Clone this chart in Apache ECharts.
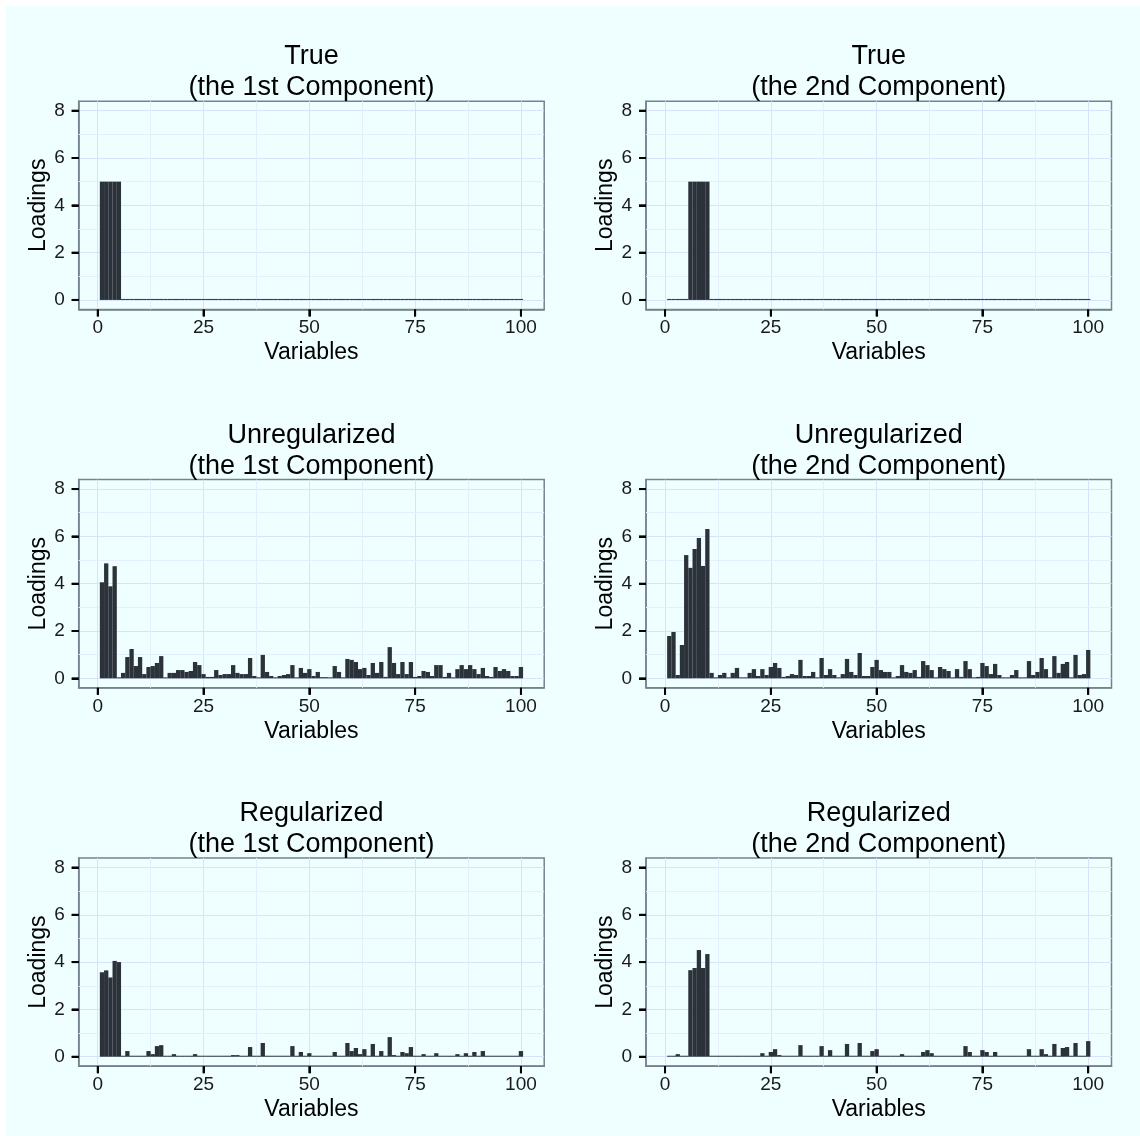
<!DOCTYPE html>
<html>
<head>
<meta charset="utf-8">
<script src="https://cdn.jsdelivr.net/npm/echarts@6/dist/echarts.min.js"></script>
<style>
  body { margin: 0; background: #ffffff; }
  #bg { position: absolute; left: 6px; top: 6px; width: 1134px; height: 1130px; background: #efffff; }
  #chart { position: absolute; left: 0; top: 0; width: 1140px; height: 1136px; }
</style>
</head>
<body>
<div id="bg"></div>
<div id="chart"></div>
<script>
// variable index 1..100
const variables = [
  1, 2, 3, 4, 5, 6, 7, 8, 9, 10, 11, 12, 13, 14, 15, 16, 17, 18, 19, 20,
  21, 22, 23, 24, 25, 26, 27, 28, 29, 30, 31, 32, 33, 34, 35, 36, 37, 38, 39, 40,
  41, 42, 43, 44, 45, 46, 47, 48, 49, 50, 51, 52, 53, 54, 55, 56, 57, 58, 59, 60,
  61, 62, 63, 64, 65, 66, 67, 68, 69, 70, 71, 72, 73, 74, 75, 76, 77, 78, 79, 80,
  81, 82, 83, 84, 85, 86, 87, 88, 89, 90, 91, 92, 93, 94, 95, 96, 97, 98, 99, 100
];

const xTicks = [0, 25, 50, 75, 100];
const xMinorTicks = [12.5, 37.5, 62.5, 87.5];
const yTicks = [0, 2, 4, 6, 8];
const yMinorTicks = [1, 3, 5, 7];

const trueFirst = [
  5, 5, 5, 5, 5, 0, 0, 0, 0, 0, 0, 0, 0, 0, 0, 0, 0, 0, 0, 0,
  0, 0, 0, 0, 0, 0, 0, 0, 0, 0, 0, 0, 0, 0, 0, 0, 0, 0, 0, 0,
  0, 0, 0, 0, 0, 0, 0, 0, 0, 0, 0, 0, 0, 0, 0, 0, 0, 0, 0, 0,
  0, 0, 0, 0, 0, 0, 0, 0, 0, 0, 0, 0, 0, 0, 0, 0, 0, 0, 0, 0,
  0, 0, 0, 0, 0, 0, 0, 0, 0, 0, 0, 0, 0, 0, 0, 0, 0, 0, 0, 0
];
const trueSecond = [
  0, 0, 0, 0, 0, 5, 5, 5, 5, 5, 0, 0, 0, 0, 0, 0, 0, 0, 0, 0,
  0, 0, 0, 0, 0, 0, 0, 0, 0, 0, 0, 0, 0, 0, 0, 0, 0, 0, 0, 0,
  0, 0, 0, 0, 0, 0, 0, 0, 0, 0, 0, 0, 0, 0, 0, 0, 0, 0, 0, 0,
  0, 0, 0, 0, 0, 0, 0, 0, 0, 0, 0, 0, 0, 0, 0, 0, 0, 0, 0, 0,
  0, 0, 0, 0, 0, 0, 0, 0, 0, 0, 0, 0, 0, 0, 0, 0, 0, 0, 0, 0
];
const unregFirst = [
  4.06, 4.86, 3.89, 4.74, 0.02, 0.23, 0.90, 1.24, 0.52, 0.90,
  0.18, 0.48, 0.52, 0.65, 0.94, 0.03, 0.23, 0.23, 0.35, 0.35,
  0.27, 0.31, 0.69, 0.56, 0.18, 0.06, 0.06, 0.35, 0.14, 0.18,
  0.18, 0.56, 0.23, 0.18, 0.18, 0.86, 0.10, 0.03, 0.99, 0.27,
  0.10, 0.03, 0.10, 0.14, 0.18, 0.56, 0.03, 0.44, 0.23, 0.39,
  0.10, 0.27, 0.05, 0.05, 0.02, 0.52, 0.27, 0.02, 0.82, 0.78,
  0.69, 0.39, 0.44, 0.14, 0.65, 0.23, 0.69, 0.06, 1.32, 0.65,
  0.18, 0.69, 0.18, 0.69, 0.06, 0.10, 0.31, 0.27, 0.10, 0.56,
  0.56, 0.06, 0.23, 0.02, 0.39, 0.56, 0.39, 0.56, 0.39, 0.18,
  0.44, 0.10, 0.06, 0.48, 0.31, 0.39, 0.31, 0.10, 0.10, 0.48
];
const unregSecond = [
  1.79, 1.96, 0.14, 1.41, 5.21, 4.67, 5.47, 5.93, 4.75, 6.31,
  0.23, 0.02, 0.14, 0.23, 0.02, 0.23, 0.44, 0.02, 0.02, 0.23,
  0.39, 0.10, 0.39, 0.14, 0.48, 0.65, 0.44, 0.06, 0.10, 0.18,
  0.14, 0.78, 0.10, 0.10, 0.27, 0.02, 0.86, 0.14, 0.39, 0.14,
  0.02, 0.18, 0.82, 0.27, 0.14, 1.07, 0.10, 0.10, 0.48, 0.78,
  0.35, 0.27, 0.27, 0.02, 0.10, 0.56, 0.27, 0.23, 0.35, 0.06,
  0.73, 0.56, 0.35, 0.02, 0.48, 0.39, 0.31, 0.02, 0.39, 0.06,
  0.73, 0.39, 0.02, 0.06, 0.65, 0.52, 0.18, 0.61, 0.14, 0.02,
  0.02, 0.14, 0.35, 0.02, 0.02, 0.73, 0.14, 0.27, 0.86, 0.39,
  0.02, 0.94, 0.23, 0.61, 0.69, 0.02, 0.99, 0.14, 0.18, 1.20
];
const regFirst = [
  3.57, 3.65, 3.35, 4.05, 4.00, 0.03, 0.24, 0.02, 0, 0,
  0, 0.24, 0.11, 0.45, 0.49, 0, 0, 0.11, 0, 0,
  0, 0, 0.11, 0, 0, 0, 0, 0, 0, 0,
  0, 0.07, 0.07, 0, 0, 0.41, 0, 0, 0.58, 0,
  0, 0, 0, 0, 0, 0.45, 0, 0.20, 0, 0.15,
  0, 0, 0, 0, 0, 0.20, 0, 0, 0.58, 0.24,
  0.37, 0.11, 0.32, 0, 0.54, 0, 0.24, 0, 0.83, 0.07,
  0, 0.20, 0.15, 0.41, 0, 0, 0.11, 0, 0, 0.15,
  0, 0, 0, 0, 0.11, 0, 0.15, 0, 0.20, 0,
  0.24, 0, 0, 0, 0, 0, 0, 0, 0, 0.24
];
const regSecond = [
  0, 0, 0.11, 0, 0, 3.66, 3.75, 4.51, 3.75, 4.34,
  0, 0, 0, 0, 0, 0, 0, 0, 0, 0,
  0, 0, 0.15, 0, 0.20, 0.32, 0.07, 0, 0, 0,
  0, 0.49, 0, 0, 0, 0, 0.45, 0, 0.28, 0,
  0, 0, 0.54, 0, 0, 0.58, 0, 0, 0.24, 0.32,
  0, 0, 0, 0, 0, 0.11, 0, 0, 0, 0,
  0.20, 0.28, 0.15, 0, 0, 0, 0, 0, 0, 0,
  0.45, 0.20, 0, 0, 0.28, 0.20, 0, 0.20, 0, 0,
  0, 0, 0, 0, 0, 0.32, 0, 0, 0.32, 0.11,
  0, 0.54, 0, 0.37, 0.41, 0, 0.58, 0, 0, 0.66
];

const panelTitles = [
  "True\n(the 1st Component)", "True\n(the 2nd Component)",
  "Unregularized\n(the 1st Component)", "Unregularized\n(the 2nd Component)",
  "Regularized\n(the 1st Component)", "Regularized\n(the 2nd Component)"
];
const panelData = [trueFirst, trueSecond, unregFirst, unregSecond, regFirst, regSecond];

const FONT = "'Liberation Sans', Arial, Helvetica, sans-serif";
const FRAME = "#76828f";
const X_MIN = -4.5, X_MAX = 105.5, Y_MIN = -0.4, Y_MAX = 8.4;
const TICK_LEN = 7;
const colLeft = [78.7, 646];
const rowTop = [101.2, 479.6, 858];
const plotW = 465.5;
const plotH = 208.2;

const chart = echarts.init(document.getElementById("chart"), null, { renderer: "canvas" });

let grids = [], xAxes = [], yAxes = [], series = [], titles = [];

// minor grid lines, drawn as marker lines behind the bars
const minorLines = xMinorTicks.map(v => ({ xAxis: v })).concat(yMinorTicks.map(v => ({ yAxis: v })));

panelData.forEach((vals, k) => {
  const r = Math.floor(k / 2), c = k % 2;
  grids.push({
    left: colLeft[c], top: rowTop[r], width: plotW, height: plotH,
    show: true, backgroundColor: "transparent",
    borderColor: FRAME, borderWidth: 1.5
  });
  titles.push({
    text: panelTitles[k],
    left: colLeft[c] + plotW / 2,
    top: rowTop[r] - 60,
    textAlign: "center",
    padding: 0,
    textStyle: { fontFamily: FONT, fontSize: 27, fontWeight: "normal", color: "#000", lineHeight: 31 }
  });
  xAxes.push({
    gridIndex: k, type: "value", min: X_MIN, max: X_MAX, position: "bottom",
    axisLine: { show: true, onZero: false, lineStyle: { color: FRAME, width: 1.5 } },
    axisTick: { show: true, length: TICK_LEN, customValues: xTicks, lineStyle: { color: "#000", width: 2 } },
    axisLabel: { customValues: xTicks, margin: 9, fontSize: 19, color: "#1a1a1a", fontFamily: FONT },
    splitLine: { show: true, lineStyle: { color: "#d6e3fa", width: 1 } },
    name: "Variables", nameLocation: "middle", nameGap: 32,
    nameTextStyle: { fontFamily: FONT, fontSize: 23, color: "#000" }
  });
  yAxes.push({
    gridIndex: k, type: "value", min: Y_MIN, max: Y_MAX, position: "left",
    axisLine: { show: true, onZero: false, lineStyle: { color: FRAME, width: 1.5 } },
    axisTick: { show: true, length: TICK_LEN, customValues: yTicks, lineStyle: { color: "#000", width: 2 } },
    axisLabel: { customValues: yTicks, margin: 14, fontSize: 19, color: "#1a1a1a", fontFamily: FONT },
    splitLine: { show: true, lineStyle: { color: "#d6e3fa", width: 1 } },
    name: "Loadings", nameLocation: "middle", nameGap: 29,
    nameTextStyle: { fontFamily: FONT, fontSize: 23, color: "#000" }
  });
  series.push({
    type: "bar",
    xAxisIndex: k, yAxisIndex: k,
    barWidth: 4.3,
    barMinHeight: 1,
    itemStyle: { color: "#2c323a" },
    silent: true,
    data: variables.map((v, i) => [v, vals[i]]),
    markLine: {
      silent: true, symbol: "none", z: 1, animation: false,
      label: { show: false },
      emphasis: { disabled: true },
      lineStyle: { color: "#e4effc", type: "solid", width: 1 },
      data: minorLines
    }
  });
});

chart.setOption({
  backgroundColor: "transparent",
  animation: false,
  title: titles,
  grid: grids,
  xAxis: xAxes,
  yAxis: yAxes,
  series: series
});

// outer tick marks, positioned through each panel's own scales
const tickMarks = [];
panelData.forEach((vals, k) => {
  xTicks.forEach(v => {
    const p = chart.convertToPixel({ gridIndex: k }, [v, Y_MIN]);
    tickMarks.push({
      type: "line", silent: true, z: 10,
      shape: { x1: p[0], y1: p[1], x2: p[0], y2: p[1] + TICK_LEN },
      style: { stroke: "#000", lineWidth: 2 }
    });
  });
  yTicks.forEach(v => {
    const p = chart.convertToPixel({ gridIndex: k }, [X_MIN, v]);
    tickMarks.push({
      type: "line", silent: true, z: 10,
      shape: { x1: p[0] - TICK_LEN, y1: p[1], x2: p[0], y2: p[1] },
      style: { stroke: "#000", lineWidth: 2 }
    });
  });
});
chart.setOption({ graphic: tickMarks });
</script>
</body>
</html>
